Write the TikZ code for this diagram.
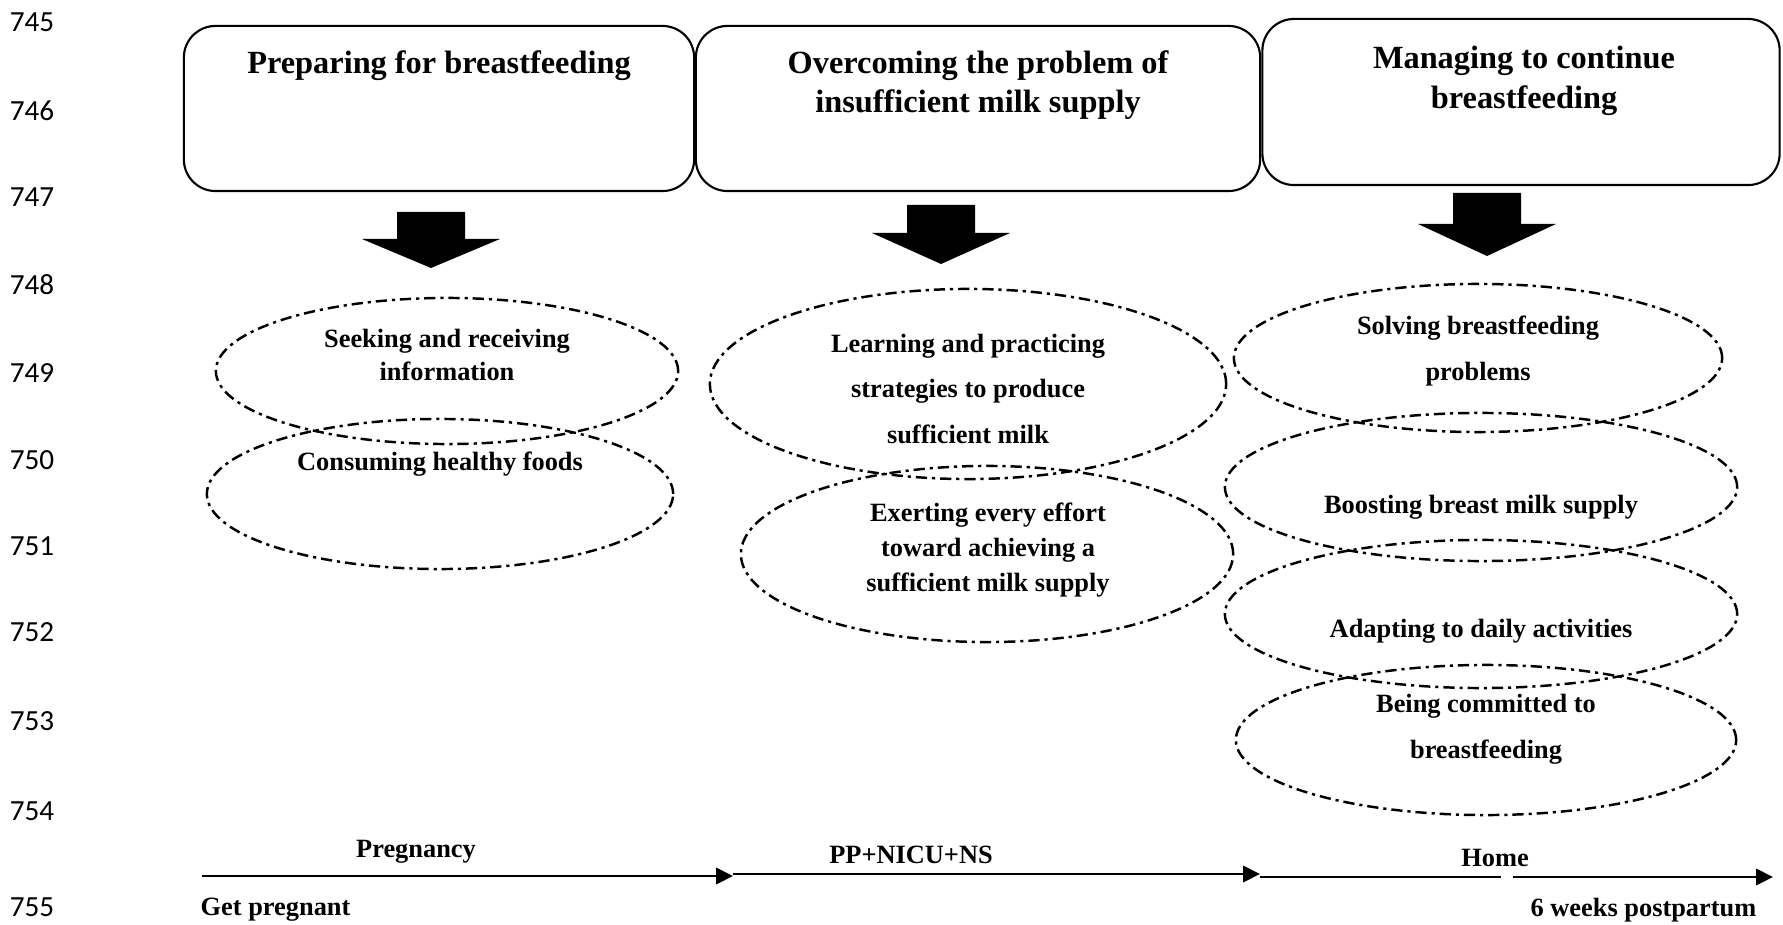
\documentclass[tikz,border=0pt]{standalone}
\usepackage{fontspec}
\setmainfont{Liberation Serif}
\newfontfamily\numfont{Carlito}
\usetikzlibrary{shapes.geometric,arrows.meta}

\tikzset{
  stage/.style={draw,rounded corners=9pt,line width=0.6pt,inner sep=0pt},
  title/.style={align=center,inner sep=0pt,font=\fontsize{9.2}{11.2}\selectfont\bfseries},
  theme/.style={draw,ellipse,line width=0.7pt,inner sep=0pt,
    dash pattern=on 3.2pt off 1.4pt on 0.9pt off 1.4pt},
  lbl/.style={align=center,inner sep=0pt,font=\fontsize{7.5}{9.6}\selectfont\bfseries},
  loose/.style={font=\fontsize{7.5}{13}\selectfont\bfseries},
  lineno/.style={inner sep=0pt,font=\numfont\fontsize{8.3}{9}\selectfont},
  tl/.style={line width=0.8pt}
}

\newcommand{\blockarrow}[4]{% centre x, top, head, tip
  \fill (#1-34,#2) -- (#1+34,#2) -- (#1+34,#3) -- (#1+69,#3) -- (#1,#4)
        -- (#1-69,#3) -- (#1-34,#3) -- cycle;}

\begin{document}
\begin{tikzpicture}[x=0.01cm,y=-0.01cm,>={Triangle[length=4.8pt,width=4.6pt]}]
  \useasboundingbox (0,0) rectangle (1783,925);

  % line numbers
  \foreach \n/\y in {745/22,746/111,747/197,748/285,749/373,750/460,751/546,752/632,753/721,754/811,755/907}
    \node[lineno] (n\n) at (32,\y) {\n};

  % stages
  \node[stage,minimum width=5.10cm,minimum height=1.65cm] (s1) at (439,108.5) {};
  \node[stage,minimum width=5.64cm,minimum height=1.65cm] (s2) at (978,108.5) {};
  \node[stage,minimum width=5.17cm,minimum height=1.66cm] (s3) at (1521,102) {};
  \node[title] (t1) at (439,66) {Preparing for breastfeeding};
  \node[title] (t2) at (978,85) {Overcoming the problem of\\insufficient milk supply};
  \node[title] (t3) at (1524,81) {Managing to continue\\breastfeeding};

  \blockarrow{431}{212}{239}{268}
  \blockarrow{941}{205}{233}{264}
  \blockarrow{1487}{193}{224}{256}

  % themes
  \node[theme,minimum width=4.62cm,minimum height=1.46cm] (e1) at (447,371) {};
  \node[theme,minimum width=4.66cm,minimum height=1.50cm] (e2) at (440,494) {};
  \node[theme,minimum width=5.16cm,minimum height=1.90cm] (e3) at (968,384) {};
  \node[theme,minimum width=4.92cm,minimum height=1.76cm] (e4) at (987,554) {};
  \node[theme,minimum width=4.88cm,minimum height=1.48cm] (e5) at (1478,358) {};
  \node[theme,minimum width=5.12cm,minimum height=1.48cm] (e6) at (1481,487) {};
  \node[theme,minimum width=5.12cm,minimum height=1.48cm] (e7) at (1481,614) {};
  \node[theme,minimum width=5.00cm,minimum height=1.50cm] (e8) at (1486,740) {};

  \node[lbl,font=\fontsize{7.5}{9.3}\selectfont\bfseries] (l1) at (447,355) {Seeking and receiving\\information};
  \node[lbl] (l2) at (440,464) {Consuming healthy foods};
  \node[lbl,loose] (l3) at (968,389) {Learning and practicing\\strategies to produce\\sufficient milk};
  \node[lbl,font=\fontsize{7.5}{9.9}\selectfont\bfseries] (l4) at (988,550) {Exerting every effort\\toward achieving a\\sufficient milk supply};
  \node[lbl,loose] (l5) at (1478,351) {Solving breastfeeding\\problems};
  \node[lbl] (l6) at (1481,507) {Boosting breast milk supply};
  \node[lbl] (l7) at (1481,631) {Adapting to daily activities};
  \node[lbl,loose] (l8) at (1486,729) {Being committed to\\breastfeeding};

  % time line
  \coordinate (g0) at (202,876);
  \coordinate (g1) at (733,876);
  \coordinate (h0) at (733,874);
  \coordinate (h1) at (1260,874);
  \coordinate (k0) at (1260,877);
  \coordinate (k1) at (1501,877);
  \coordinate (k2) at (1513,877);
  \coordinate (k3) at (1773,877);
  \draw[tl,->] (g0) -- (g1);
  \draw[tl,->] (h0) -- (h1);
  \draw[tl] (k0) -- (k1);
  \draw[tl,->] (k2) -- (k3);

  \node[lbl] (p1) at (416,852) {Pregnancy};
  \node[lbl] (p2) at (911,855) {PP+NICU+NS};
  \node[lbl] (p3) at (1495,858) {Home};
  \node[lbl,anchor=west] (p4) at (200,910) {Get pregnant};
  \node[lbl,anchor=east] (p5) at (1757,910) {6 weeks postpartum};
\end{tikzpicture}
\end{document}
